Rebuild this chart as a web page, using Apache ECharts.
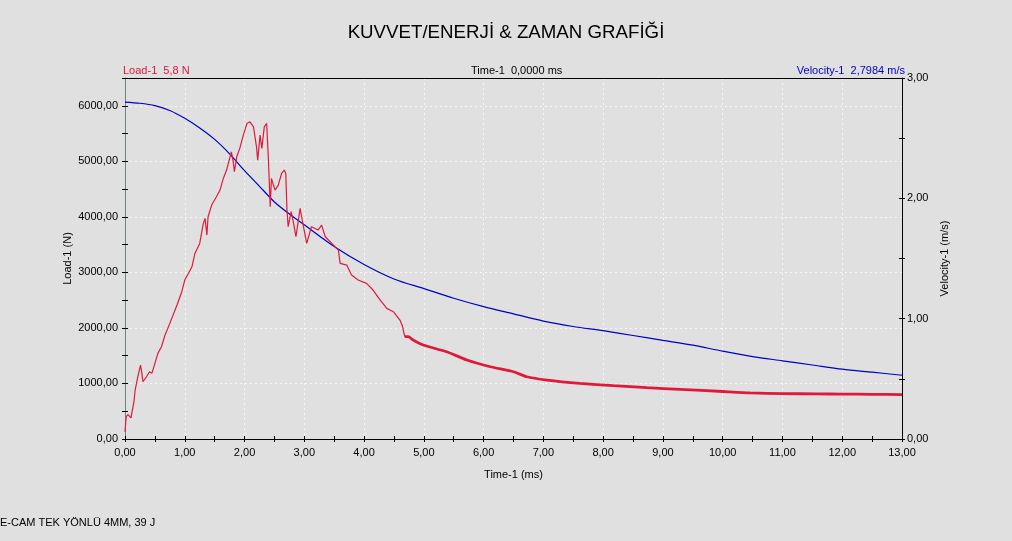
<!DOCTYPE html>
<html>
<head>
<meta charset="utf-8">
<script src="https://cdn.jsdelivr.net/npm/echarts@6/dist/echarts.min.js"></script>
<style>
html,body{margin:0;padding:0;background:#e0e0e0;}
#c{width:1012px;height:541px;}
</style>
</head>
<body>
<div id="c"></div>
<script>
// ---- data ----
const loadTime = [0.00,0.02,0.05,0.08,0.10,0.12,0.15,0.17,0.22,0.26,0.28,0.30,0.36,0.41,0.45,0.50,0.55,0.61,0.67,0.75,0.87,0.95,1.00,1.06,1.12,1.17,1.25,1.31,1.34,1.37,1.39,1.45,1.53,1.59,1.645,1.70,1.757,1.78,1.81,1.83,1.87,1.92,1.98,2.04,2.09,2.15,2.20,2.22,2.26,2.29,2.33,2.37,2.40,2.43,2.45,2.51,2.565,2.62,2.665,2.69,2.71,2.73,2.78,2.82,2.86,2.93,2.97,3.04,3.12,3.23,3.29,3.35,3.46,3.57,3.60,3.71,3.79,3.90,4.04,4.15,4.27,4.38,4.49,4.60,4.64,4.68];
const loadValue = [131,401,440,462,380,372,671,882,1152,1332,1200,1031,1121,1211,1182,1362,1542,1661,1872,2082,2412,2652,2862,2980,3101,3342,3522,3882,3972,3672,4001,4212,4361,4482,4692,4842,5081,5171,5000,4812,5081,5232,5472,5682,5711,5621,5261,5022,5472,5232,5621,5682,5022,4181,4692,4482,4572,4782,4842,4782,4122,3822,4092,3882,3642,4152,3912,3522,3822,3762,3852,3642,3522,3402,3162,3132,2952,2862,2802,2682,2502,2352,2292,2142,2040,1842];
const tailTime = [4.68,4.74,4.82,4.99,5.38,5.72,6.11,6.50,6.72,7.06,7.61,8.17,8.73,9.29,10.00,10.46,11.00,11.57,12.00,12.50,13.00];
const tailValue = [1842,1842,1782,1692,1571,1422,1301,1211,1121,1062,1002,960,924,894,855,830,818,812,808,805,800];
const velTime = [0,0.25,0.5,0.75,1.0,1.25,1.5,1.75,2.0,2.25,2.5,2.75,3.0,3.5,4.0,4.5,5.0,5.5,6.0,6.5,7.0,7.5,8.0,8.5,9.0,9.5,10.0,10.5,11.0,11.5,12.0,12.5,13.0];
const velValue = [2.80,2.79,2.77,2.73,2.665,2.585,2.49,2.37,2.23,2.10,1.97,1.87,1.78,1.60,1.45,1.33,1.25,1.17,1.10,1.04,0.98,0.935,0.90,0.86,0.82,0.78,0.73,0.685,0.65,0.615,0.58,0.555,0.53];
const titleText = 'KUVVET/ENERJİ & ZAMAN GRAFİĞİ';
const headerLoad = 'Load-1  5,8 N';
const headerTime = 'Time-1  0,0000 ms';
const headerVel = 'Velocity-1  2,7984 m/s';
const footerText = 'E-CAM TEK YÖNLÜ 4MM, 39 J';

const zip = (a,b) => a.map((v,i)=>[v,b[i]]);
const fmt = v => v.toFixed(2).replace('.', ',');
const FONT = 'Liberation Sans, Arial, sans-serif';
const tickAxisBase = (pos, min, max, interval, inside) => ({
  position: pos, min, max, interval, type:'value',
  axisLine:{show:false, onZero:false},
  axisTick:{show:true, inside, length:3, lineStyle:{color:'#000', width:1}},
  axisLabel:{show:false}, splitLine:{show:false}
});

const chart = echarts.init(document.getElementById('c'), null, {renderer:'canvas'});
chart.setOption({
  backgroundColor:'#e0e0e0',
  animation:false,
  textStyle:{fontFamily:FONT},
  title:[
    {text:titleText, left:'center', top:23, padding:0, textStyle:{fontSize:18.7, fontWeight:'normal', color:'#000', fontFamily:FONT}},
    {text:headerLoad, left:123, top:65, padding:0, textStyle:{fontSize:11, fontWeight:'normal', color:'#e0193a', fontFamily:FONT}},
    {text:headerTime, left:471, top:65, padding:0, textStyle:{fontSize:11, fontWeight:'normal', color:'#000', fontFamily:FONT}},
    {text:headerVel, right:107, top:65, padding:0, textStyle:{fontSize:11, fontWeight:'normal', color:'#0000c8', fontFamily:FONT}}
  ],
  graphic:[{type:'text', left:0, top:517, style:{text:footerText, font:'11px '+FONT, fill:'#000'}}],
  grid:{left:125, right:110, top:78, bottom:102, containLabel:false},
  xAxis:[
    {type:'value', position:'bottom', min:0, max:13, interval:1,
     name:'Time-1 (ms)', nameLocation:'middle', nameGap:30,
     nameTextStyle:{fontSize:11, color:'#000'},
     axisLine:{show:true, onZero:false, lineStyle:{color:'#000', width:1}},
     axisTick:{show:false},
     axisLabel:{fontSize:11, color:'#000', margin:8, formatter:fmt},
     splitLine:{show:true, lineStyle:{color:'#f6f6f6', type:[2,3], width:1}}},
    tickAxisBase('bottom',0,13,0.5,false),
    tickAxisBase('bottom',0,13,0.5,true),
    {type:'value', position:'top', min:0, max:13,
     axisLine:{show:true, onZero:false, lineStyle:{color:'#000', width:1}},
     axisTick:{show:false}, axisLabel:{show:false}, splitLine:{show:false}}
  ],
  yAxis:[
    {type:'value', position:'left', min:0, max:6500, interval:1000,
     name:'Load-1 (N)', nameLocation:'middle', nameGap:52, nameRotate:90, nameMoveOverlap:false,
     nameTextStyle:{fontSize:11, color:'#000'},
     axisLine:{show:true, onZero:false, lineStyle:{color:'#6b8585', width:1}},
     axisTick:{show:false},
     axisLabel:{fontSize:11, color:'#000', margin:7, formatter:v => (v % 1000 === 0 ? fmt(v) : '')},
     splitLine:{show:true, lineStyle:{color:'#f6f6f6', type:[2,3], width:1}}},
    tickAxisBase('left',0,6500,500,false),
    tickAxisBase('left',0,6500,500,true),
    {type:'value', position:'right', min:0, max:3, interval:1,
     name:'Velocity-1 (m/s)', nameLocation:'middle', nameGap:37, nameRotate:90, nameMoveOverlap:false,
     nameTextStyle:{fontSize:11, color:'#000'},
     axisLine:{show:true, onZero:false, lineStyle:{color:'#000', width:1}},
     axisTick:{show:false},
     axisLabel:{fontSize:11, color:'#000', margin:5, formatter:fmt},
     splitLine:{show:false}},
    tickAxisBase('right',0,3,0.5,false),
    tickAxisBase('right',0,3,0.5,true)
  ],
  series:[
    {type:'line', name:'Velocity-1', xAxisIndex:0, yAxisIndex:3, data:zip(velTime, velValue),
     showSymbol:false, smooth:0.3, lineStyle:{color:'#0000c8', width:1.2}, z:3},
    {type:'line', name:'Load-1', xAxisIndex:0, yAxisIndex:0, data:zip(loadTime, loadValue),
     showSymbol:false, lineStyle:{color:'#e0193a', width:1.2}, z:4},
    {type:'line', name:'Load-1 tail', xAxisIndex:0, yAxisIndex:0, data:zip(tailTime, tailValue),
     showSymbol:false, smooth:0.2, lineStyle:{color:'#e0193a', width:2.8}, z:4}
  ]
});
</script>
</body>
</html>
